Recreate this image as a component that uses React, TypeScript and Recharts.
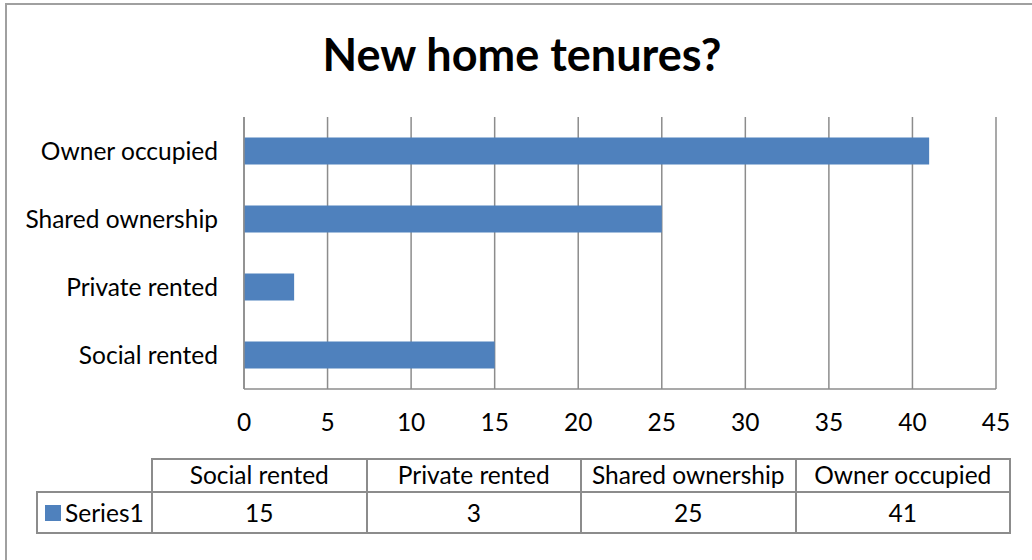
import React from 'react'
import { BarChart, Bar, XAxis, YAxis, CartesianGrid } from 'recharts'

const categories = ['Social rented', 'Private rented', 'Shared ownership', 'Owner occupied']
const series1 = [15, 3, 25, 41]
const xTicks = [0, 5, 10, 15, 20, 25, 30, 35, 40, 45]
const seriesName = 'Series1'
const title = 'New home tenures?'

const data = categories.map((name, i) => ({ name, value: series1[i] }))

const FONT = 'Lato, "Open Sans", sans-serif'
const GRID = '#8c8c8c'
const BLUE = '#4f81bd'
const FS = 24.5

// data table under the chart
const tableLeft = 151
const colW = 214.5
const headTop = 458
const rowTop = 491
const rowBottom = 532

function DataTable() {
  const cell: React.CSSProperties = {
    position: 'absolute',
    boxSizing: 'border-box',
    border: `2px solid ${GRID}`,
    display: 'flex',
    alignItems: 'center',
    justifyContent: 'center',
    fontSize: FS,
    color: '#000',
    fontFamily: FONT,
  }
  return (
    <>
      {categories.map((c, i) => (
        <div
          key={'h' + i}
          style={{
            ...cell,
            left: tableLeft + i * colW,
            top: headTop,
            width: colW + 2,
            height: rowTop - headTop + 2,
            paddingBottom: 3,
          }}
        >
          {c}
        </div>
      ))}
      <div
        style={{
          ...cell,
          left: 36,
          top: rowTop,
          width: tableLeft - 36 + 2,
          height: rowBottom - rowTop + 2,
          justifyContent: 'flex-start',
          paddingLeft: 7,
        }}
      >
        <span style={{ width: 16, height: 16, background: BLUE, marginRight: 4, display: 'inline-block' }} />
        {seriesName}
      </div>
      {series1.map((v, i) => (
        <div
          key={'v' + i}
          style={{
            ...cell,
            left: tableLeft + i * colW,
            top: rowTop,
            width: colW + 2,
            height: rowBottom - rowTop + 2,
          }}
        >
          {v}
        </div>
      ))}
    </>
  )
}

export default function App() {
  return (
    <div
      style={{
        position: 'absolute',
        left: 0,
        top: 0,
        width: 1032,
        height: 560,
        overflow: 'hidden',
        background: '#fff',
        fontFamily: FONT,
      }}
    >
      <div
        style={{
          position: 'absolute',
          left: 5,
          top: 3,
          width: 1100,
          height: 620,
          border: '2px solid #a0a0a0',
        }}
      />
      <div
        style={{
          position: 'absolute',
          left: 0,
          top: 27,
          width: 1044,
          textAlign: 'center',
          fontWeight: 'bold',
          fontSize: 45,
          color: '#000',
        }}
      >
        {title}
      </div>
      <div style={{ position: 'absolute', left: 0, top: 0 }}>
        <BarChart
          width={1032}
          height={480}
          data={data}
          layout="vertical"
          barCategoryGap="30%"
          margin={{ top: 117, right: 36, left: 0, bottom: 31 }}
        >
          <CartesianGrid horizontal={false} stroke={GRID} strokeWidth={1.5} />
          <XAxis
            type="number"
            domain={[0, 45]}
            ticks={xTicks}
            height={60}
            tickLine={false}
            tickSize={0}
            tickMargin={25}
            axisLine={{ stroke: GRID, strokeWidth: 1.5 }}
            tick={{ fill: '#000', fontSize: FS, fontFamily: FONT }}
          />
          <YAxis
            type="category"
            dataKey="name"
            reversed
            width={244}
            tickLine={false}
            tickSize={0}
            tickMargin={26}
            axisLine={{ stroke: GRID, strokeWidth: 1.5 }}
            tick={{ fill: '#000', fontSize: FS, fontFamily: FONT }}
          />
          <Bar dataKey="value" fill={BLUE} isAnimationActive={false} />
        </BarChart>
      </div>
      <DataTable />
    </div>
  )
}
